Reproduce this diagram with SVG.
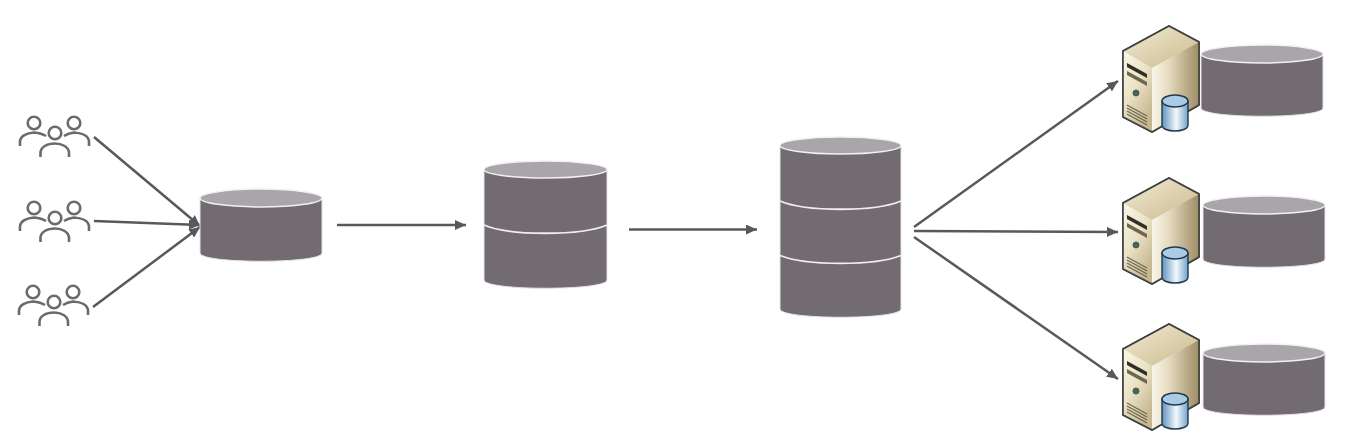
<svg xmlns="http://www.w3.org/2000/svg" xmlns:xlink="http://www.w3.org/1999/xlink" width="1358" height="436" viewBox="0 0 1358 436">
<style>
.body{fill:#726b71;stroke:#e6e4e6;stroke-width:1}
.top{fill:#aaa5aa;stroke:#f2f1f2;stroke-width:1.5}
.sep{fill:none;stroke:#f0eff0;stroke-width:1.8}
.conn{fill:none;stroke:#595959;stroke-width:2.5;marker-end:url(#arrow)}
.ppl{fill:none;stroke:#6b6b6b;stroke-width:2.6;stroke-linecap:butt}
.edge{stroke:#3f4140;stroke-width:1.6;stroke-linejoin:round}
</style>
<defs>
<marker id="arrow" markerUnits="userSpaceOnUse" markerWidth="12" markerHeight="10" refX="11" refY="5" orient="auto"><path d="M0,0L11,5L0,10Z" fill="#595959"/></marker>
<linearGradient id="lf" x1="0" y1="0" x2="0.6" y2="1"><stop offset="0" stop-color="#fbf7e8"/><stop offset="0.5" stop-color="#ece3c6"/><stop offset="1" stop-color="#c6b78f"/></linearGradient>
<linearGradient id="rf" x1="0" y1="0" x2="1" y2="0"><stop offset="0" stop-color="#f8f5ea"/><stop offset="0.35" stop-color="#e6dcc0"/><stop offset="1" stop-color="#9e8c65"/></linearGradient>
<linearGradient id="tf" x1="0" y1="0" x2="1" y2="1"><stop offset="0" stop-color="#f3ecd4"/><stop offset="1" stop-color="#c9b88d"/></linearGradient>
<linearGradient id="dbb" x1="0" y1="0" x2="1" y2="0"><stop offset="0" stop-color="#5f93bf"/><stop offset="0.55" stop-color="#f2f8fc"/><stop offset="1" stop-color="#6fa3cc"/></linearGradient>
<g id="people" class="ppl">
<circle cx="34" cy="123" r="6.3"/><circle cx="74" cy="123" r="6.3"/><circle cx="55" cy="133" r="6.3"/>
<path d="M20,146V142C20,136 27,133 34,132.500C39,133 43,134 46,136"/>
<path d="M89,146V142C89,136 82,133 74,132.500C70,133 67,134 64,136"/>
<path d="M40.500,157V153C40.500,147 47,143.500 55,143.500C62,143.500 69,147 69,153V157"/>
</g>
<g id="server">
<path class="edge" d="M1169,26L1199,42V105L1152,132L1123,117V51Z" fill="#e8dfc4"/>
<path d="M1169,26L1199,42L1152,68L1123,51Z" fill="url(#tf)"/>
<path d="M1123,51L1152,68V132L1123,117Z" fill="url(#lf)"/>
<path d="M1152,68L1199,42V105L1152,132Z" fill="url(#rf)"/>
<path class="edge" fill="none" d="M1169,26L1199,42V105L1152,132L1123,117V51Z"/>
<path d="M1127,63L1147,74V78L1127,67Z" fill="#2f2f2a"/>
<path d="M1127,71L1147,82V86L1127,75Z" fill="#6e6750"/>
<circle cx="1136" cy="93" r="3" fill="#3c6b5d" stroke="#55524a"/>
<path d="M1127,105L1147,116M1127,108L1147,119M1127,111L1147,122M1127,114L1147,125" stroke="#6b6555" stroke-width="1.1" fill="none"/>
<path d="M1162,101V125C1162,133 1188,133 1188,125V101Z" fill="url(#dbb)" stroke="#23384d" stroke-width="1.4"/>
<ellipse cx="1175" cy="101" rx="13" ry="6" fill="#a9cbe6" stroke="#23384d" stroke-width="1.4"/>
</g>
</defs>
<g id="connectors">
<path class="conn" d="M94,137L200,226"/>
<path class="conn" d="M94,221L200,225"/>
<path class="conn" d="M93,307L200,227"/>
<path class="conn" d="M337,225H466"/>
<path class="conn" d="M629,229.500H757"/>
<path class="conn" d="M914,227L1118,81"/>
<path class="conn" d="M914,231L1118,232"/>
<path class="conn" d="M914,237L1118,379"/>
</g>
<g id="users-1"><use xlink:href="#people" href="#people"/></g>
<g id="users-2"><use xlink:href="#people" href="#people" y="85"/></g>
<g id="users-3"><use xlink:href="#people" href="#people" x="-1" y="169"/></g>
<g id="db-1">
<path class="body" d="M200,198V253C200,264 322,264 322,253V198Z"/>
<ellipse class="top" cx="261" cy="198" rx="61" ry="9"/>
</g>
<g id="db-2">
<path class="body" d="M484,169.500V280C484,291 607,291 607,280V169.500Z"/>
<ellipse class="top" cx="545.500" cy="169.500" rx="61.500" ry="8.500"/>
<path class="sep" d="M484,225C510,236 581,236 607,225"/>
</g>
<g id="db-3">
<path class="body" d="M780,145.500V309C780,320 901,320 901,309V145.500Z"/>
<ellipse class="top" cx="840.500" cy="145.500" rx="60.500" ry="8.500"/>
<path class="sep" d="M780,201C806,212 875,212 901,201"/>
<path class="sep" d="M780,255.500C806,266 875,266 901,255.500"/>
</g>
<g id="server-1"><use xlink:href="#server" href="#server"/></g>
<g id="store-1">
<path class="body" d="M1201,54V108C1201,119 1323,119 1323,108V54Z"/>
<ellipse class="top" cx="1262" cy="54" rx="61" ry="9"/>
</g>
<g id="server-2"><use xlink:href="#server" href="#server" y="152"/></g>
<g id="store-2">
<path class="body" d="M1203,205V259C1203,270 1325,270 1325,259V205Z"/>
<ellipse class="top" cx="1264" cy="205" rx="61" ry="9"/>
</g>
<g id="server-3"><use xlink:href="#server" href="#server" y="298"/></g>
<g id="store-3">
<path class="body" d="M1203,353V407C1203,418 1325,418 1325,407V353Z"/>
<ellipse class="top" cx="1264" cy="353" rx="61" ry="9"/>
</g>
</svg>
